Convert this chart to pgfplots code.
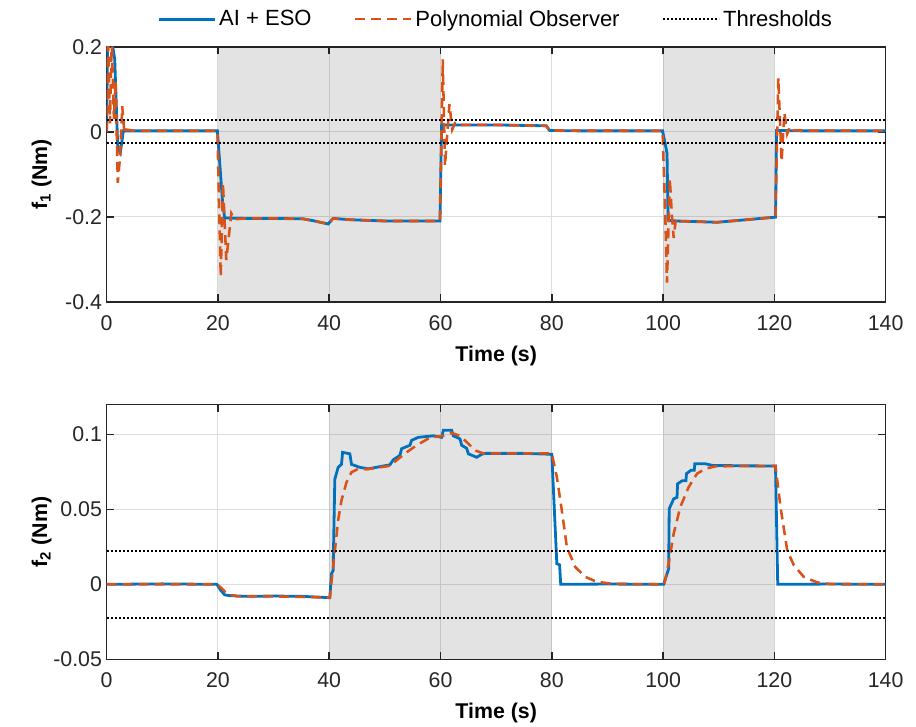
\documentclass[border=0pt]{standalone}
\usepackage{pgfplots}
\pgfplotsset{compat=1.18}
\usepackage{fontspec}
\setmainfont{Liberation Sans}
\definecolor{mblue}{RGB}{0,114,189}
\definecolor{morange}{RGB}{217,83,25}
\definecolor{axgray}{RGB}{38,38,38}
\pgfplotsset{
  myaxis/.style={
    scale only axis, width=584.25pt, height=191.25pt,
    anchor=south west,
    xmin=0, xmax=140, xtick={0,20,...,140},
    font=\fontsize{16}{19}\selectfont,
    /pgf/number format/assume math mode=true,
    tick align=inside, tick pos=both,
    major tick length=5.5pt,
    axis line style={axgray, line width=1.2pt},
    every tick/.style={axgray, line width=1.2pt},
    tick label style={text=axgray},
    xticklabel style={yshift=-6.5pt},
    grid=major,
    major grid style={black!13, line width=0.8pt},
    scaled y ticks=false,
    xlabel={\textbf{Time (s)}},
    xlabel style={at={(axis description cs:0.5,-0.212)}, anchor=center, text=black},
    ylabel style={at={(axis description cs:-0.0835,0.5)}, anchor=center, rotate=0, text=black},
    clip=true,
  },
  shade/.style={draw=none, fill=black, fill opacity=0.11, forget plot},
  blueline/.style={mblue, line width=2.1pt},
  orangeline/.style={morange, line width=1.9pt, dash pattern=on 7.5pt off 4.5pt},
  thrline/.style={black, line width=1.6pt, dash pattern=on 1.4pt off 1.6pt},
}
\begin{document}
\begin{tikzpicture}
\useasboundingbox (0,0) rectangle (687pt,544.5pt);
% ---------------- top axis ----------------
\begin{axis}[myaxis,
  at={(80pt,318.2pt)},
  ymin=-0.4, ymax=0.2, ytick={-0.4,-0.2,0,0.2},
  yticklabels={-0.4,-0.2,0,0.2},
  ylabel={\textbf{f\textsubscript{1} (Nm)}},
  legend style={at={(axis description cs:0.5,1.108)}, anchor=center,
    draw=none, fill=none, legend columns=3,
    font=\fontsize{16.5}{19}\selectfont,
    /tikz/every even column/.append style={column sep=30pt}},
  legend cell align=left,
  legend image code/.code={\draw[#1] (0pt,0pt) -- (42pt,0pt);},
]
\addplot[shade] coordinates {(20,-0.4) (60,-0.4) (60,0.2) (20,0.2)} \closedcycle;
\addplot[shade] coordinates {(100,-0.4) (120,-0.4) (120,0.2) (100,0.2)} \closedcycle;
\addplot[blueline] coordinates {
(0,0) (0.2,0.28) (0.9,0.25) (1.1,0.2) (1.45,0.17) (2.0,-0.04) (2.45,-0.05) (3.0,0.002)
(10,0.002) (19.9,0.002) (20.8,-0.16) (21.2,-0.203) (25,-0.204) (30,-0.204) (35.3,-0.205)
(37,-0.209) (39.8,-0.217) (40.7,-0.204) (43.7,-0.207) (50,-0.21) (55,-0.21) (59.9,-0.21)
(60.2,0.016) (62,0.016) (70,0.016) (79,0.014) (79.6,0.003) (85,0.002) (99.9,0.002)
(100.7,-0.05) (100.9,-0.208) (102.2,-0.21) (109.7,-0.213) (115,-0.207) (120.2,-0.201)
(120.4,0.003) (125,0.002) (140,0.002)
};
\addlegendentry{AI + ESO}
\addplot[orangeline] coordinates {
(0,0) (0.25,0.22) (0.6,0.02) (0.9,0.22) (1.3,0.03) (1.6,0.12) (2.0,-0.12) (2.4,-0.06)
(2.8,0.06) (3.2,-0.005) (3.6,0.005) (5,0.002) (19.9,0.002)
(20.5,-0.341) (20.9,-0.121) (21.5,-0.302) (22.4,-0.192) (23,-0.206) (25,-0.204) (30,-0.204)
(35.3,-0.205) (37,-0.209) (39.8,-0.217) (40.7,-0.204) (43.7,-0.207) (50,-0.21) (59.9,-0.21)
(60.4,0.17) (60.8,-0.08) (61.6,0.065) (62.1,0.005) (62.6,0.02) (63,0.016) (70,0.016)
(79,0.014) (79.6,0.003) (99.9,0.002)
(100.4,-0.2) (100.7,-0.355) (101.2,-0.11) (101.6,-0.2) (101.9,-0.25) (102.3,-0.205)
(102.8,-0.21) (109.7,-0.213) (115,-0.207) (120.2,-0.201)
(120.7,0.126) (121.3,-0.07) (121.8,0.045) (122.3,-0.005) (122.8,0.012) (123.5,0.003) (140,0.002)
};
\addlegendentry{Polynomial Observer}
\addplot[thrline] coordinates {(0,0.0275) (140,0.0275)};
\addlegendentry{Thresholds}
\addplot[thrline, forget plot] coordinates {(0,-0.0275) (140,-0.0275)};
\end{axis}
% ---------------- bottom axis ----------------
\begin{axis}[myaxis,
  at={(80pt,50pt)},
  ymin=-0.05, ymax=0.12, ytick={-0.05,0,0.05,0.1},
  yticklabels={-0.05,0,0.05,0.1},
  ylabel={\textbf{f\textsubscript{2} (Nm)}},
]
\addplot[shade] coordinates {(40,-0.05) (80,-0.05) (80,0.12) (40,0.12)} \closedcycle;
\addplot[shade] coordinates {(100,-0.05) (120,-0.05) (120,0.12) (100,0.12)} \closedcycle;
\addplot[blueline] coordinates {
(0,0) (10,0.0003) (19.8,0) (20.5,-0.004) (21.2,-0.007) (22,-0.0075) (25,-0.008) (30,-0.0078)
(35,-0.008) (38,-0.0085) (40.1,-0.0089) (40.4,0.007) (40.7,0.0093) (41.0,0.070) (41.6,0.078)
(42.2,0.080) (42.4,0.088) (43.7,0.087) (44.0,0.080) (45.5,0.078) (47,0.077) (50.9,0.0797)
(51.5,0.083) (52.7,0.086) (53.0,0.0904) (54.5,0.0927) (54.8,0.096) (56.0,0.098) (58.7,0.099)
(60.2,0.098) (60.5,0.1027) (62.0,0.1027) (62.3,0.099) (63.5,0.097) (63.8,0.0927) (64.7,0.0907)
(65.0,0.087) (66.5,0.0847) (67.4,0.0867) (68,0.0873) (75,0.0873) (80.0,0.0867) (80.9,0.0138)
(81.4,0.013) (81.6,0.0) (90,0.0002) (100.1,0) (101.0,0.0104) (101.1,0.0504) (101.9,0.057)
(102.5,0.058) (102.6,0.067) (103.4,0.069) (104.1,0.069) (104.2,0.0738) (105.0,0.076)
(105.6,0.076) (105.7,0.0804) (107.6,0.0804) (108.8,0.0793) (115,0.079) (120.2,0.0789)
(120.6,0.0) (130,0.0002) (140,0)
};
\addplot[orangeline] coordinates {
(0,0) (19.8,0) (20.5,-0.002) (21.3,-0.005) (22.2,-0.007) (23.5,-0.008) (30,-0.008)
(40.1,-0.0088) (40.7,0.0116) (41.6,0.0427) (42.2,0.056) (43.1,0.068) (44.0,0.0747)
(45.2,0.077) (46.7,0.0767) (50.9,0.079) (52.1,0.0827) (53.9,0.088) (55.7,0.0927)
(58.1,0.0978) (60.5,0.099) (62.0,0.101) (63.5,0.099) (65.0,0.0938) (66.2,0.0893)
(67.7,0.0873) (80.0,0.0873) (80.9,0.0716) (81.8,0.0493) (82.7,0.0249) (84.2,0.0116)
(86,0.005) (88,0.0018) (91,0.0003) (100.2,0) (101.0,0.0138) (101.9,0.0338) (103.1,0.0516)
(104.6,0.0649) (106.1,0.0738) (107.6,0.0771) (109.5,0.0787) (120.2,0.0789) (121.1,0.0516)
(122.3,0.0227) (123.5,0.0127) (125.3,0.0049) (127.7,0.0013) (130,0.0002) (140,0)
};
\addplot[thrline] coordinates {(0,0.0225) (140,0.0225)};
\addplot[thrline] coordinates {(0,-0.0225) (140,-0.0225)};
\end{axis}
\end{tikzpicture}
\end{document}
